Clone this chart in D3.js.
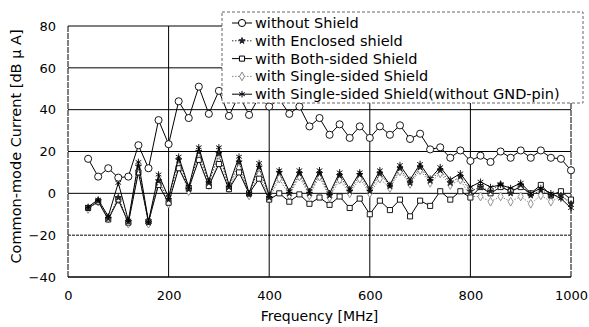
<!DOCTYPE html>
<html><head><meta charset="utf-8">
<script src="https://cdn.jsdelivr.net/npm/d3@7"></script>
<style>body{margin:0;background:#fff}svg{display:block}text{font-family:"DejaVu Sans",sans-serif}</style>
</head><body><svg id="c" width="589" height="327"></svg>
<script>
const freq = [40,60,80,100,120,140,160,180,200,220,240,260,280,300,320,340,360,380,400,420,440,460,480,500,520,540,560,580,600,620,640,660,680,700,720,740,760,780,800,820,840,860,880,900,920,940,960,980,1000];
const withoutShield = [16.5,8,12,7.5,8,23,12,35,23.5,44,36,51,38,49,37,47,37.5,46,41.5,45,38,41.5,32,36,28,33,26.5,32,26.5,32,28,32.5,26,28.5,21,22,17,20.5,15.5,18,15,20,17,20.5,17,20.5,17,16.5,11];
const enclosedShield = [-7,-3.5,-12,-2,-13.5,13,-14,6,-3,16,2,20,5,19,3,15,-0.5,12.5,-2,10,0,9.5,0,9.5,-1,8.5,1,9,1,9.5,3.5,12,5,12.5,6,11,5,8,1,3,1,4.5,0,4,-1,1.5,-1,-1,-5];
const bothSided = [-7,-4,-12.5,-3,-14,10,-13.5,4,-4.5,12,2.5,16,3.5,14,2,10,0,7,-3,0,-4,-0.5,-5,-2,-5.5,-1.5,-7,-2.5,-10,-3.5,-8,-3,-11,-3.5,-6,1,-3,1,-2,3,0,3,1,3,0,4,-1,1,-3];
const singleSided = [-7.5,-4,-12,-3,-14.5,11,-14.5,5,-5,13,1,17.5,4,15,2,12,-1,9,-2.5,7,-1,8,-1,8,-2,6.5,0,7,0,7,2.5,10.5,4.5,11,5,9.5,4,6.5,-1.5,-1.5,-4,-1.5,-4,-1.5,-5,-1,-4,-1.5,-4];
const singleNoGnd = [-6.5,-3,-11,5,-13,15,-13.5,9,-2,17.5,3,22,6,22,4,17.5,0,14.5,-1,11,1,11,1,11,0,10,2,10,2,11,4,13.5,6.5,14,7,12.5,6.5,9.5,3,5.5,3,4,2.5,5,0,2.5,0,-2.5,-7];
const seriesNames = ["without Shield","with Enclosed shield","with Both-sided Shield","with Single-sided Shield","with Single-sided Shield(without GND-pin)"];
const xTicks = [0,200,400,600,800,1000];
const yTicks = [-40,-20,0,20,40,60,80];

const svg = d3.select("#c");
const L=68,R=571,T=26,B=277;
const x = d3.scaleLinear().domain([0,1000]).range([L,R]);
const y = d3.scaleLinear().domain([-40,80]).range([B,T]);

const g = svg.append("g");
yTicks.forEach(v=>{
  g.append("line").attr("x1",L).attr("x2",R).attr("y1",y(v)).attr("y2",y(v))
   .attr("stroke","#000").attr("stroke-width",v===-40?1.6:1)
   .attr("stroke-dasharray",v===-20?"3,1":null);
});
xTicks.forEach(v=>{
  g.append("line").attr("x1",x(v)).attr("x2",x(v)).attr("y1",T).attr("y2",B)
   .attr("stroke","#000").attr("stroke-width",1)
   .attr("stroke-dasharray",(v===0||v===1000)?"6,1":null);
});

const xAxis = d3.axisBottom(x).tickValues(xTicks).tickSize(0).tickPadding(14).tickFormat(d3.format("d"));
const ax = svg.append("g").attr("transform",`translate(0,${B})`).call(xAxis);
ax.select(".domain").remove();
ax.selectAll("text").attr("font-size",13).attr("fill","#000").attr("font-family","DejaVu Sans, sans-serif");
const yAxis = d3.axisLeft(y).tickValues(yTicks).tickSize(0).tickPadding(12).tickFormat(d=>d<0?"\u2212"+Math.abs(d):d);
const ay = svg.append("g").attr("transform",`translate(${L},0)`).call(yAxis);
ay.select(".domain").remove();
ay.selectAll("text").attr("font-size",13).attr("fill","#000").attr("font-family","DejaVu Sans, sans-serif");

svg.append("text").attr("x",(L+R)/2).attr("y",321).attr("text-anchor","middle").attr("font-size",14).text("Frequency [MHz]");
svg.append("text").attr("transform",`translate(21,${(T+B)/2-5}) rotate(-90)`).attr("text-anchor","middle").attr("font-size",14.5).text("Common-mode Current [dB \u03BC A]");

const styles = [
  {vals:withoutShield, stroke:"#000", dash:null, sym:d3.symbolCircle, size:40, fill:"#fff", mstroke:"#000"},
  {vals:enclosedShield, stroke:"#333", dash:"1.5,1.5", sym:d3.symbolStar, size:12, fill:"#222", mstroke:"#222"},
  {vals:bothSided, stroke:"#000", dash:null, sym:d3.symbolSquare, size:26, fill:"#fff", mstroke:"#000"},
  {vals:singleSided, stroke:"#888", dash:"1.5,1.5", sym:d3.symbolDiamond, size:22, fill:"#fff", mstroke:"#888"},
  {vals:singleNoGnd, stroke:"#000", dash:null, sym:d3.symbolAsterisk, size:30, fill:"none", mstroke:"#000"}
];
const line = d3.line().x((d,i)=>x(freq[i])).y(d=>y(d));
const order=[3,2,1,4,0];
order.forEach(k=>{
  const s=styles[k];
  const sg=svg.append("g");
  sg.append("path").datum(s.vals).attr("d",line).attr("fill","none").attr("stroke",s.stroke)
    .attr("stroke-width",1).attr("stroke-dasharray",s.dash);
  sg.selectAll("path.m").data(s.vals).join("path").attr("class","m")
    .attr("transform",(d,i)=>`translate(${x(freq[i])},${y(d)})`)
    .attr("d",d3.symbol().type(s.sym).size(s.size))
    .attr("fill",s.fill).attr("stroke",s.mstroke).attr("stroke-width",0.9);
});

const lg=svg.append("g");
lg.append("rect").attr("x",222).attr("y",12).attr("width",361).attr("height",91)
  .attr("fill","#fff").attr("stroke","#666").attr("stroke-width",1).attr("stroke-dasharray","3,2");
seriesNames.forEach((n,i)=>{
  const s=styles[i]; const yy=23+i*17.8;
  lg.append("line").attr("x1",232).attr("x2",252).attr("y1",yy).attr("y2",yy)
    .attr("stroke",s.stroke).attr("stroke-width",1).attr("stroke-dasharray",s.dash);
  lg.append("path").attr("transform",`translate(242,${yy})`).attr("d",d3.symbol().type(s.sym).size(s.size))
    .attr("fill",s.fill).attr("stroke",s.mstroke);
  lg.append("text").attr("x",255).attr("y",yy+5).attr("font-size",14.5).text(n);
});
</script></body></html>
